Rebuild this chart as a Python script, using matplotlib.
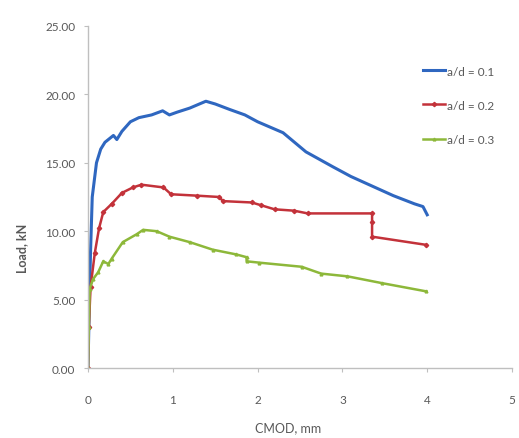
import matplotlib
matplotlib.use('Agg')
from matplotlib import pyplot as plt

# CMOD (mm) and load (kN)
cmod_01 = [0, 0.01, 0.02, 0.03, 0.04, 0.05, 0.07, 0.1, 0.15, 0.2, 0.3, 0.34, 0.4, 0.5, 0.6,
           0.75, 0.88, 0.96, 1.05, 1.2, 1.39, 1.5, 1.67, 1.85, 2.0, 2.3, 2.57, 2.89, 3.1,
           3.35, 3.6, 3.85, 3.95, 4.0]
load_01 = [0, 3.0, 6.0, 8.5, 10.5, 12.5, 13.5, 15.0, 16.0, 16.5, 17.0, 16.7, 17.3, 18.0, 18.3,
           18.5, 18.8, 18.5, 18.7, 19.0, 19.5, 19.3, 18.9, 18.5, 18.0, 17.2, 15.8, 14.7, 14.0,
           13.3, 12.6, 12.0, 11.8, 11.2]

cmod_02 = [0, 0.01, 0.03, 0.08, 0.13, 0.18, 0.28, 0.4, 0.53, 0.63, 0.89, 0.98, 1.28, 1.55,
           1.59, 1.93, 2.04, 2.2, 2.43, 2.59, 3.35, 3.35, 3.35, 3.99]
load_02 = [0, 3.0, 5.9, 8.4, 10.2, 11.4, 12.0, 12.8, 13.2, 13.4, 13.2, 12.7, 12.6, 12.5,
           12.2, 12.1, 11.9, 11.6, 11.5, 11.3, 11.3, 10.7, 9.6, 9.0]

cmod_03 = [0, 0.01, 0.02, 0.06, 0.12, 0.18, 0.24, 0.28, 0.41, 0.58, 0.65, 0.81, 0.96, 1.2,
           1.47, 1.75, 1.87, 1.87, 2.02, 2.52, 2.75, 3.06, 3.47, 3.99]
load_03 = [0, 3.0, 5.8, 6.5, 7.0, 7.8, 7.6, 8.0, 9.2, 9.8, 10.1, 10.0, 9.6, 9.2,
           8.65, 8.3, 8.1, 7.8, 7.7, 7.4, 6.9, 6.7, 6.2, 5.6]

labels = ['a/d = 0.1', 'a/d = 0.2', 'a/d = 0.3']
x_ticks = [0, 1, 2, 3, 4, 5]
y_ticks = [0, 5, 10, 15, 20, 25]

font = 'Lato'
grey = '#595959'

fig = plt.figure(figsize=(5.19, 4.39), dpi=100)
ax = fig.add_axes([88 / 519, 1 - 369 / 439, (512 - 88) / 519, (369 - 27) / 439])

ax.plot(cmod_01, load_01, color='#2F67C0', lw=2.2, label=labels[0])
ax.plot(cmod_02, load_02, color='#C3323A', lw=1.8, marker='D', ms=2.2, label=labels[1])
ax.plot(cmod_03, load_03, color='#8DB83A', lw=1.8, marker='^', ms=2.0, label=labels[2])

ax.set_xlim(0, 5)
ax.set_ylim(0, 25)
ax.set_xticks(x_ticks)
ax.set_yticks(y_ticks)
ax.set_xticklabels([str(v) for v in x_ticks])
ax.set_yticklabels(['%.2f' % v for v in y_ticks])

# excel-ish frame: only left and bottom, light grey
for side in ['top', 'right']:
    ax.spines[side].set_visible(False)
for side in ['left', 'bottom']:
    ax.spines[side].set_color('#BFBFBF')
    ax.spines[side].set_linewidth(1.0)
ax.tick_params(axis='both', colors='#BFBFBF', length=3, width=0.8, labelcolor=grey)
ax.tick_params(axis='x', pad=16)
ax.tick_params(axis='y', pad=6)
for label in ax.get_xticklabels() + ax.get_yticklabels():
    label.set_fontname(font)
    label.set_fontsize(8.5)

fig.text(22 / 519, 1 - 248 / 439, 'Load, kN', rotation=90, ha='center', va='center',
         fontname=font, fontsize=9, fontweight='bold', color=grey)
fig.text(288 / 519, 1 - 428 / 439, 'CMOD, mm', ha='center', va='center',
         fontname=font, fontsize=9, color=grey)

leg = ax.legend(loc='upper left', bbox_to_anchor=(0.778, 0.898), frameon=False,
                prop={'family': font, 'size': 8.5}, handlelength=1.9, handletextpad=0.2,
                labelspacing=1.95, labelcolor=grey, borderaxespad=0)

plt.savefig('out.png', dpi=100)
